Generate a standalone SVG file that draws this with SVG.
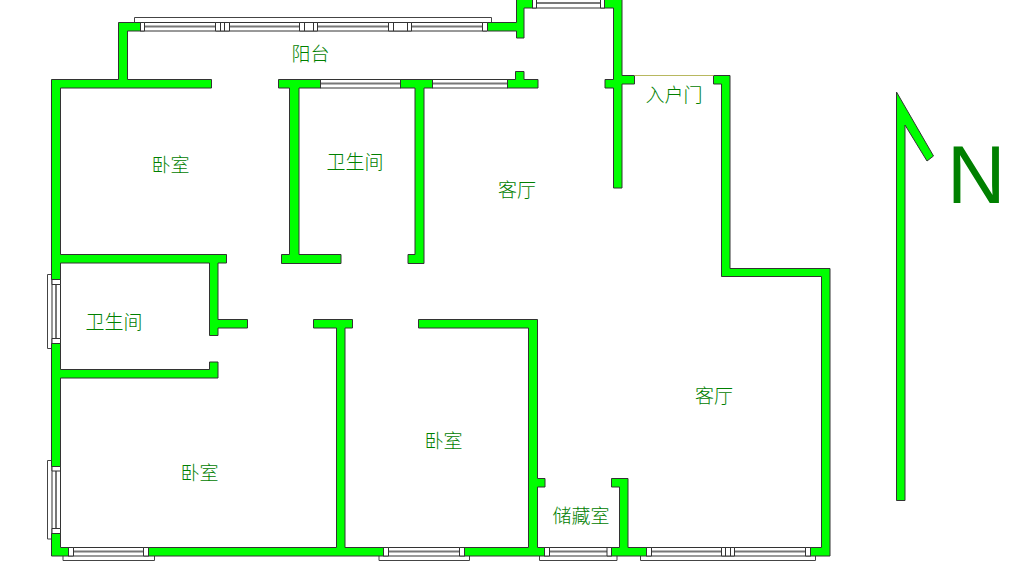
<svg xmlns="http://www.w3.org/2000/svg" width="1024" height="584" viewBox="0 0 1024 584">
<style>
.wall{fill:#00ff00;stroke:#333;stroke-width:1}
.frame{fill:#fff;stroke:#333;stroke-width:1}
.out{fill:none;stroke:#444;stroke-width:1}
.band{stroke:#777;stroke-width:2;fill:none}
.label{font-family:"Noto Sans CJK SC","Liberation Sans",sans-serif;font-size:19px;fill:#008000;font-weight:300}
</style>
<rect width="1024" height="584" fill="#fff"/>
<g id="windows">
<g id="window-balcony">
<path class="out" d="M134.500 22V17.500H491.500V22"/>
<rect class="frame" x="140.500" y="22.500" width="346" height="8.500"/>
<path class="band" d="M144 26.500H482"/>
<path class="frame" d="M140.500 22.500h4v8.500h-4zM215.500 22.500h14v8.500h-14zM220.500 22.500v8.500M224.500 22.500v8.500M299.500 22.500h18v8.500h-18zM304.500 22.500v8.500M313.500 22.500v8.500M388.500 22.500h23v8.500h-23zM393.500 22.500v8.500M407.500 22.500v8.500M482.500 22.500h5v8.500h-5z"/>
</g>
<g id="window-north">
<rect class="frame" x="532.500" y="-1" width="72" height="9"/>
<path class="band" d="M536 3H600"/>
<path class="frame" d="M532.500 -1h4v9h-4zM600.500 -1h4v9h-4z"/>
</g>
<g id="window-bath-north">
<rect class="frame" x="320.500" y="79.500" width="80" height="8.500"/>
<path class="band" d="M320 83.500H400"/>
</g>
<g id="window-living-north">
<rect class="frame" x="432.500" y="79.500" width="75" height="8.500"/>
<path class="band" d="M432 83.500H507"/>
</g>
<g id="window-west-1">
<path class="out" d="M52 274.500H47.500V348.500H52"/>
<rect class="frame" x="52" y="279.500" width="8.500" height="64"/>
<path class="band" d="M56 284V338"/>
<path class="frame" d="M52 279.500h8.500v5h-8.500zM52 338.500h8.500v5h-8.500z"/>
</g>
<g id="window-west-2">
<path class="out" d="M52 460.500H47.500V539H52"/>
<rect class="frame" x="52" y="466.500" width="8.500" height="67"/>
<path class="band" d="M56 471V528"/>
<path class="frame" d="M52 466.500h8.500v4.500h-8.500zM52 528.500h8.500v5h-8.500z"/>
</g>
<g id="window-south-1">
<path class="out" d="M63 556V560.500H154.500V556"/>
<rect class="frame" x="68.500" y="547.500" width="80" height="8.500"/>
<path class="band" d="M73 551.500H143"/>
<path class="frame" d="M68.500 547.500h5v8.500h-5zM143.500 547.500h5v8.500h-5z"/>
</g>
<g id="window-south-2">
<path class="out" d="M379 556V560.500H469.500V556"/>
<rect class="frame" x="383.500" y="547.500" width="81" height="8.500"/>
<path class="band" d="M388 551.500H459"/>
<path class="frame" d="M383.500 547.500h5v8.500h-5zM459.500 547.500h5v8.500h-5z"/>
</g>
<g id="window-south-3">
<path class="out" d="M539.500 556V560.500H617V556"/>
<rect class="frame" x="544.500" y="547.500" width="67" height="8.500"/>
<path class="band" d="M549 551.500H607"/>
<path class="frame" d="M544.500 547.500h5v8.500h-5zM607 547.500h4.500v8.500h-4.500z"/>
</g>
<g id="window-south-4">
<path class="out" d="M640.500 556V560.500H815.500V556"/>
<rect class="frame" x="646.500" y="547.500" width="164" height="8.500"/>
<path class="band" d="M651 551.500H805"/>
<path class="frame" d="M646.500 547.500h5v8.500h-5zM805.500 547.500h5v8.500h-5zM721.500 547.500h13v8.500h-13zM725.500 547.500v8.500M730.500 547.500v8.500"/>
</g>
</g>
<g id="walls">
<path class="wall" id="wall-main-west" d="M118.500 22.500H140.500V31H127.500V79.500H211.500V88H60.500V254.500H226.500V263H218V319.500H247.500V328H218V335.500H209.500V263H60.500V279.500H51.500V79.500H118.500Z"/>
<path class="wall" id="wall-west-mid" d="M51.500 343.500H60.500V369.500H209.500V362H218V378H60.500V466.500H51.500Z"/>
<path class="wall" id="wall-south" d="M51.500 533.500H60.500V547.500H68.500V556H51.500Z"/>
<path class="wall" id="wall-south-b" d="M148.500 547.500H336.500V328H313.500V319.500H352.500V328H345V547.500H383.500V556H148.500Z"/>
<path class="wall" id="wall-bedroom-east" d="M418.500 319.500H537.500V478.500H545V487H537.500V547.500H544.500V556H464.500V547.500H528.500V328H418.500Z"/>
<path class="wall" id="wall-storage" d="M611.500 478.500H628V547.500H646.500V556H611.500V547.500H619.500V487H611.500Z"/>
<path class="wall" id="wall-east" d="M713.500 75.500H730V268.500H830V556H810.500V547.500H821.500V276.500H721.500V84H713.500Z"/>
<path class="wall" id="wall-center" d="M604.500 -1H622V75.500H634.500V84H622V188H613.500V88H605V79.500H613.500V8H604.500Z"/>
<path class="wall" id="wall-balcony-east" d="M516.500 -1H532.500V8H524V38H516.500V31H487.500V22.500H516.500Z"/>
<path class="wall" id="wall-north-east" d="M515.500 71.500H524V79.500H538V88H507.500V79.500H515.500Z"/>
<path class="wall" id="wall-bath-a" d="M278.500 79.500H320.500V88H299V254.500H341V263.500H281.500V254.500H289.500V88H278.500Z"/>
<path class="wall" id="wall-bath-b" d="M400.500 79.500H432.500V88H424V263.500H408V254.500H415V88H400.500Z"/>
</g>
<path id="door-line" d="M634.500 75.500H713.500" stroke="#b8b860" stroke-width="1" fill="none"/>
<g id="labels">
<text class="label" x="291.500" y="61">阳台</text>
<text class="label" x="151.500" y="172">卧室</text>
<text class="label" x="326.500" y="169">卫生间</text>
<text class="label" x="498" y="197">客厅</text>
<text class="label" x="645.500" y="102">入户门</text>
<text class="label" x="85.500" y="329">卫生间</text>
<text class="label" x="180.500" y="480">卧室</text>
<text class="label" x="424.500" y="448">卧室</text>
<text class="label" x="695" y="403">客厅</text>
<text class="label" x="552.500" y="523">储藏室</text>
</g>
<g id="compass">
<path class="wall" d="M896.500 92L933.500 156L927 161L905 125V500.500H896.500Z"/>
<text x="947" y="203" font-family="Liberation Sans, sans-serif" font-size="81" fill="#008000">N</text>
</g>
</svg>
